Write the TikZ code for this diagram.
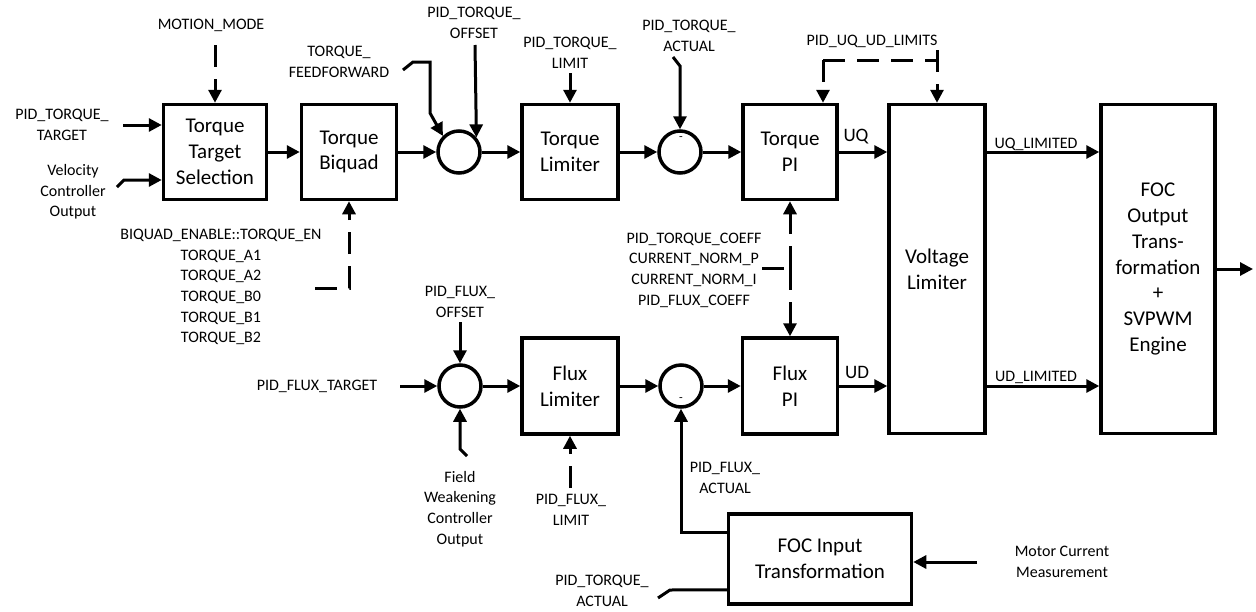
\documentclass[tikz,border=0pt]{standalone}
\usepackage{fontspec}
\setmainfont{Carlito}
\usetikzlibrary{arrows.meta}

\begin{document}
\begin{tikzpicture}[
        x=1pt,y=-1pt,
        >={Triangle[length=13pt,width=13pt]},
        line width=3pt,
        blk/.style={draw,line width=3.5pt,align=center,minimum width=95pt,minimum height=95pt,inner sep=0pt,font=\fontsize{21}{25.7}\selectfont},
        sm/.style={draw,circle,line width=3.5pt,minimum size=42pt,inner sep=0pt},
        lbl/.style={align=center,inner sep=0pt,font=\fontsize{16}{20.7}\selectfont},
        dsh/.style={dash pattern=on 22pt off 12pt}
    ]
        \useasboundingbox (0,0) rectangle (1256,611);

        % blocks
        \node[blk,minimum width=103pt] (t1) at (215,152) {Torque\\Target\\Selection};
        \node[blk] (t2) at (349,152) {Torque\\Biquad};
        \node[sm] (s1) at (459,152) {};
        \node[blk,minimum width=96pt] (t3) at (570,152) {Torque\\Limiter};
        \node[sm] (s2) at (680,152) {};
        \node[blk,minimum width=94pt] (t4) at (790,152) {Torque\\PI};
        \node[blk,minimum width=96pt,minimum height=329pt] (v) at (937,269) {Voltage\\Limiter};
        \node[blk,minimum width=114pt,minimum height=329pt] (o) at (1158,269) {FOC\\Output\\Trans-\\formation\\+\\SVPWM\\Engine};
        \node[sm] (s3) at (460,386) {};
        \node[blk,minimum width=96pt,minimum height=96pt] (f1) at (570,386) {Flux\\Limiter};
        \node[sm] (s4) at (681,386) {};
        \node[blk,minimum width=95pt,minimum height=96pt] (f2) at (790,386) {Flux\\PI};
        \node[blk,minimum width=183pt,minimum height=90pt] (i) at (820,559) {FOC Input\\Transformation};

        % labels
        \node[lbl] (l1) at (211,25) {MOTION\_MODE};
        \node[lbl] (l2) at (62,125) {PID\_TORQUE\_\\TARGET};
        \node[lbl] (l3) at (73,192) {Velocity\\Controller\\Output};
        \node[lbl] (l4) at (339,62) {TORQUE\_\\FEEDFORWARD};
        \node[lbl] (l5) at (474,23) {PID\_TORQUE\_\\OFFSET};
        \node[lbl] (l6) at (570,53) {PID\_TORQUE\_\\LIMIT};
        \node[lbl] (l7) at (689,36) {PID\_TORQUE\_\\ACTUAL};
        \node[lbl] (l8) at (872,41) {PID\_UQ\_UD\_LIMITS};
        \node[lbl] (l9) at (221,287) {BIQUAD\_ENABLE::TORQUE\_EN\\TORQUE\_A1\\TORQUE\_A2\\TORQUE\_B0\\TORQUE\_B1\\TORQUE\_B2};
        \node[lbl] (l10) at (694,270) {PID\_TORQUE\_COEFF\\CURRENT\_NORM\_P\\CURRENT\_NORM\_I\\PID\_FLUX\_COEFF};
        \node[lbl] (l11) at (460,302) {PID\_FLUX\_\\OFFSET};
        \node[lbl] (l12) at (317,386) {PID\_FLUX\_TARGET};
        \node[lbl] (l13) at (460,509) {Field\\Weakening\\Controller\\Output};
        \node[lbl] (l14) at (571,510) {PID\_FLUX\_\\LIMIT};
        \node[lbl] (l15) at (725,478) {PID\_FLUX\_\\ACTUAL};
        \node[lbl] (l16) at (602,591) {PID\_TORQUE\_\\ACTUAL};
        \node[lbl] (l17) at (1062,562) {Motor Current\\Measurement};
        \node[lbl,font=\fontsize{19}{22}\selectfont] (uq) at (856,137) {UQ};
        \node[lbl,font=\fontsize{19}{22}\selectfont] (ud) at (857,372) {UD};
        \node[lbl] (uql) at (1036,144) {UQ\_LIMITED};
        \node[lbl] (udl) at (1036,377) {UD\_LIMITED};
        \node[lbl,font=\fontsize{12}{12}\selectfont] (m1) at (681,139) {-};
        \node[lbl,font=\fontsize{12}{12}\selectfont] (m2) at (681,400) {-};

        % free ends
        \coordinate (mm) at (215,45);
        \coordinate (tt) at (123,125);
        \coordinate (vc) at (117,187);
        \coordinate (vc2) at (124,180);
        \coordinate (ff) at (403,70);
        \coordinate (off1) at (475,45);
        \coordinate (lt) at (570,73);
        \coordinate (bq) at (315,288);
        \coordinate (pa) at (673,57);
        \coordinate (pa2) at (680,66);
        \coordinate (lm1) at (823,60);
        \coordinate (lm2) at (937,60);
        \coordinate (lm3) at (937,50);
        \coordinate (cf) at (762,268);
        \coordinate (cfm) at (790,268);
        \coordinate (out) at (1253,269);
        \coordinate (ft) at (400,386);
        \coordinate (fo) at (460,322);
        \coordinate (fw) at (467,456);
        \coordinate (fw2) at (460,449);
        \coordinate (fl) at (570,488);
        \coordinate (ta) at (658,598);
        \coordinate (ta2) at (670,590);
        \coordinate (mc) at (977,562);

        % torque path
        \draw[->] (tt) -- (tt -| t1.west);
        \draw[->] (vc) -- (vc2) -- (vc2 -| t1.west);
        \draw[dsh,->] (mm) -- (t1.north);
        \draw[->] (t1) -- (t2);
        \draw[dsh,->] (bq) -| (t2.south);
        \draw[->] (t2) -- (s1);
        \draw[->] (ff) -- ++(10,-8) -| (430,113) -- (s1.135);
        \draw[->] (off1) -- (s1.40);
        \draw[->] (s1) -- (t3);
        \draw[->] (lt) -- (t3.north);
        \draw[->] (t3) -- (s2);
        \draw[->] (pa) -- (pa2) -- (s2.north);
        \draw[->] (s2) -- (t4);
        \draw[->] (t4) -- (t4 -| v.west);
        \draw[->] (t4 -| v.east) -- (t4 -| o.west);
        \draw[->] (o.east) -- (out);

        % limits and coefficients
        \draw[dsh] (lm1) -- (lm2);
        \draw[dsh,->] (lm1) -- (lm1 |- t4.north);
        \draw[dsh,->] (lm3) -- (v.north);
        \draw[dsh] (cf) -- (cfm);
        \draw[dsh,->] (cfm) -- (t4.south);
        \draw[dsh,->] (cfm) -- (f2.north);

        % flux path
        \draw[->] (ft) -- (s3);
        \draw[->] (fo) -- (s3.north);
        \draw[->] (fw) -- (fw2) -- (s3.south);
        \draw[->] (s3) -- (f1);
        \draw[dsh,->] (fl) -- (f1.south);
        \draw[->] (f1) -- (s4);
        \draw[->] (s4) -- (f2);
        \draw[->] (f2) -- (f2 -| v.west);
        \draw[->] (f2 -| v.east) -- (f2 -| o.west);
        \draw[->] ([yshift=-20pt]i.north west) -| (s4.south);
        \draw ([yshift=16pt]i.south west) -- (ta2) -- (ta);
        \draw[->] (mc) -- (mc -| i.east);
    \end{tikzpicture}
\end{document}
